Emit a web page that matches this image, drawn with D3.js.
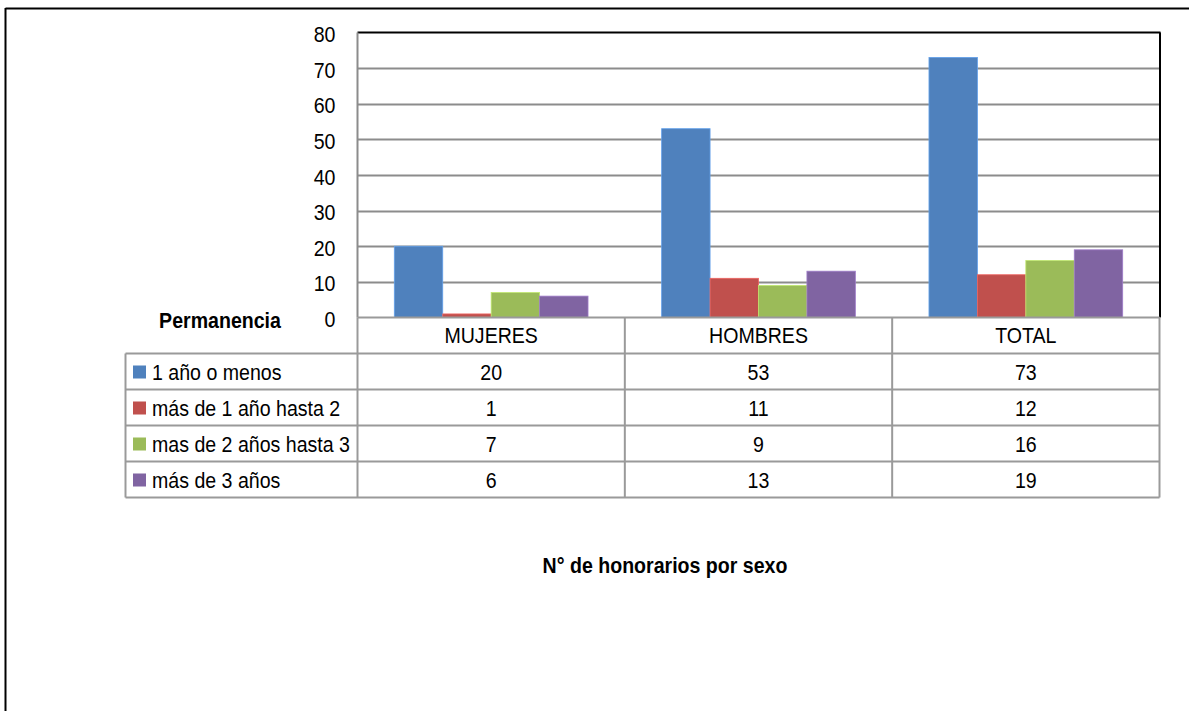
<!DOCTYPE html>
<html><head><meta charset="utf-8">
<script src="https://cdn.jsdelivr.net/npm/d3@7"></script>
<style>
html,body{margin:0;padding:0;background:#fff;}
svg text{font-family:"Liberation Sans",Arial,sans-serif;}
</style></head>
<body><svg id="c" width="1189" height="711"></svg>
<script>
const categories = ["MUJERES","HOMBRES","TOTAL"];
const seriesNames = ["1 año o menos","más de 1 año hasta 2","mas de 2 años hasta 3","más de 3 años"];
const s1 = [20,53,73];
const s2 = [1,11,12];
const s3 = [7,9,16];
const s4 = [6,13,19];
const seriesValues = [s1,s2,s3,s4];
const colors = ["#4F81BD","#C0504D","#9BBB59","#8064A2"];
const yTicks = [0,10,20,30,40,50,60,70,80];
const title = "N° de honorarios por sexo";
const tableHeader = "Permanencia";

const FS = 22, SX = 0.89;
const svg = d3.select("#c");
function txt(g, x, y, s, anchor, bold){
  return g.append("text").attr("transform",`translate(${x},${y}) scale(${SX},1)`)
    .attr("text-anchor",anchor||"start").attr("font-size",FS).attr("fill","#000")
    .attr("font-weight",bold?"bold":"normal").text(s);
}

// outer frame
svg.append("line").attr("x1",5.5).attr("x2",1189).attr("y1",8.5).attr("y2",8.5).attr("stroke","#000").attr("stroke-width",2);
svg.append("line").attr("x1",5.5).attr("x2",5.5).attr("y1",8).attr("y2",711).attr("stroke","#000").attr("stroke-width",2);

const L=357.5, R=1159.5, T=32.5, B=317.5;
const x = d3.scaleBand().domain(categories).range([L,R]);
const y = d3.scaleLinear().domain([0,80]).range([B,T]);
const inner = d3.scaleBand().domain(d3.range(4)).range([0,x.bandwidth()]).paddingOuter(0.76).paddingInner(0);

// gridlines
svg.append("g").selectAll("line").data(yTicks.filter(d=>d>0&&d<80)).join("line")
 .attr("x1",L).attr("x2",R).attr("y1",d=>Math.round(y(d))+0.5).attr("y2",d=>Math.round(y(d))+0.5)
 .attr("stroke","#8c8c8c").attr("stroke-width",2);

// bars
seriesValues.forEach((vals,si)=>{
  svg.append("g").selectAll("rect").data(vals).join("rect")
   .attr("x",(d,i)=>x(categories[i])+inner(si))
   .attr("width",inner.bandwidth())
   .attr("y",d=>y(d)).attr("height",d=>B-y(d))
   .attr("fill",colors[si]).attr("stroke",d3.color(colors[si]).brighter(0.6)).attr("stroke-width",0.8);
});

// plot borders
svg.append("line").attr("x1",L).attr("x2",R+1).attr("y1",T).attr("y2",T).attr("stroke","#000").attr("stroke-width",2);
svg.append("line").attr("x1",R+0.5).attr("x2",R+0.5).attr("y1",T).attr("y2",B).attr("stroke","#000").attr("stroke-width",2);

// y axis labels
const ag = svg.append("g");
y.ticks(8).forEach(v=>{ txt(ag, L-22, y(v)+9.5, v, "end"); });
svg.append("line").attr("x1",L).attr("x2",L).attr("y1",T).attr("y2",B).attr("stroke","#8c8c8c").attr("stroke-width",2);

// data table
const rowH = 36;
const tableLeft = 125.5;
const gridColor = "#9a9a9a";
const tg = svg.append("g");
tg.append("line").attr("x1",L).attr("x2",R).attr("y1",B).attr("y2",B).attr("stroke",gridColor).attr("stroke-width",2);
for(let r=1;r<=5;r++){
  tg.append("line").attr("x1",tableLeft).attr("x2",R).attr("y1",B+rowH*r).attr("y2",B+rowH*r)
   .attr("stroke",gridColor).attr("stroke-width",2);
}
tg.append("line").attr("x1",tableLeft).attr("x2",tableLeft).attr("y1",B+rowH).attr("y2",B+rowH*5).attr("stroke",gridColor).attr("stroke-width",2);
categories.forEach(c=>{
  tg.append("line").attr("x1",x(c)).attr("x2",x(c)).attr("y1",B).attr("y2",B+rowH*5).attr("stroke",gridColor).attr("stroke-width",2);
});
tg.append("line").attr("x1",R).attr("x2",R).attr("y1",B).attr("y2",B+rowH*5).attr("stroke",gridColor).attr("stroke-width",2);

categories.forEach(c=>{ txt(tg, x(c)+x.bandwidth()/2, B+25.5, c, "middle"); });

seriesNames.forEach((name,si)=>{
  const yy = B+rowH*(si+1);
  tg.append("rect").attr("x",133).attr("y",yy+12).attr("width",13).attr("height",13).attr("fill",colors[si]);
  txt(tg, 152, yy+26.5, name, "start");
  seriesValues[si].forEach((v,ci)=>{
    txt(tg, x(categories[ci])+x.bandwidth()/2, yy+26.5, v, "middle");
  });
});

txt(svg, 220, 328, tableHeader, "middle", true);
txt(svg, 665, 573, title, "middle", true);
</script></body></html>
